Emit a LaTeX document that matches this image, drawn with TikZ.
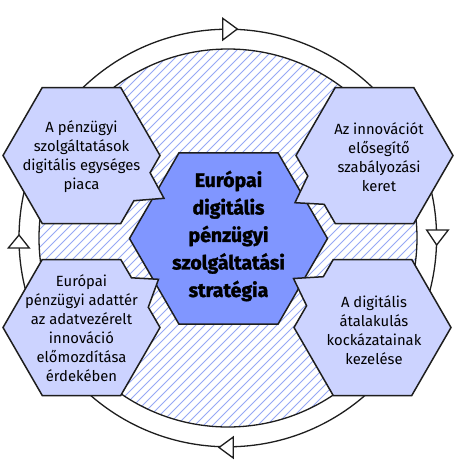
\documentclass[tikz,border=0pt]{standalone}
\usepackage{fontspec}
\setmainfont{Fira Sans}
\newfontfamily\heavyfont[BoldFeatures={FakeBold=1.6}]{Fira Sans}
\definecolor{hexmid}{RGB}{128,150,255}
\definecolor{hexlight}{RGB}{204,211,255}
\definecolor{hatchcol}{RGB}{150,168,245}
\definecolor{linecol}{RGB}{30,30,30}
\begin{document}
\begin{tikzpicture}[x=1pt,y=-1pt,
  circline/.style={draw=linecol, line width=1.3pt},
  hatchline/.style={draw=hatchcol, line width=0.8pt},
  arrowtri/.style={draw=linecol, fill=white, line width=1.3pt, line join=miter},
  hexbig/.style={draw=linecol, fill=hexmid, line width=1.5pt, line join=miter},
  hexsmall/.style={draw=linecol, fill=hexlight, line width=1.5pt, line join=miter},
  smalltext/.style={align=center, text=black, inner sep=0pt, font=\fontsize{14.8}{19}\selectfont},
  bigtext/.style={align=center, text=black, inner sep=0pt, font=\heavyfont\fontsize{19.5}{27.5}\selectfont\bfseries}]
\useasboundingbox (0,0) rectangle (458,467);
\fill[white] (0,0) rectangle (458,467);
% outer cycle
\coordinate (oc) at (227.8,238);
\draw[circline] (oc) circle[radius=208.8pt];
\draw[arrowtri] (222.7,18.3) -- (222.7,40) -- (237.3,29) -- cycle;
\draw[arrowtri] (426.7,230) -- (448.3,230) -- (436.7,245) -- cycle;
\draw[arrowtri] (233.3,437) -- (233.3,458) -- (219,447.5) -- cycle;
\draw[arrowtri] (8.3,248) -- (29.3,248) -- (19,235) -- cycle;
% hatched disc
\coordinate (ic) at (228,238);
\fill[white] (ic) circle[radius=189pt];
\begin{scope}
  \clip (ic) circle[radius=189pt];
  \foreach \k in {-50,...,50} {
    \draw[hatchline] ({\k*9}, 467) -- ({\k*9+467}, 0);
  }
\end{scope}
\draw[circline] (ic) circle[radius=189pt];
% central hexagon
\draw[hexbig] (327.5,238.5) -- (278,152.8) -- (179,152.8) -- (129.5,238.5) -- (179,324.2) -- (278,324.2) -- cycle;
% top-left
\draw[hexsmall] (160,155.5) -- (150.1,172.7) -- (164,198.3) -- (133.9,200.7) -- (120.75,223.5) -- (42.25,223.5) -- (3,155.5) -- (42.25,87.5) -- (120.75,87.5) -- cycle;
% top-right
\draw[hexsmall] (296,155.5) -- (307.8,176) -- (295,202.7) -- (324.2,204.3) -- (335.25,223.5) -- (413.75,223.5) -- (453,155.5) -- (413.75,87.5) -- (335.25,87.5) -- cycle;
% bottom-left
\draw[hexsmall] (120.75,259.5) -- (131.5,277.8) -- (158.5,279.3) -- (148.3,307.2) -- (160,327.5) -- (120.75,395.5) -- (42.25,395.5) -- (3,327.5) -- (42.25,259.5) -- cycle;
% bottom-right
\draw[hexsmall] (333.25,259.5) -- (323.3,276.7) -- (293.5,278.5) -- (306.6,305.7) -- (294,327.5) -- (333.25,395.5) -- (411.75,395.5) -- (451,327.5) -- (411.75,259.5) -- cycle;
% texts
\node[bigtext] (center) at (228.5,236) {Európai\\digitális\\pénzügyi\\szolgáltatási\\stratégia};
\node[smalltext] (tl) at (81.5,157) {A pénzügyi\\szolgáltatások\\digitális egységes\\piaca};
\node[smalltext] (tr) at (379,157) {Az innovációt\\elősegítő\\szabályozási\\keret};
\node[smalltext] (bl) at (81.5,328) {Európai\\pénzügyi adattér\\az adatvezérelt\\innováció\\előmozdítása\\érdekében};
\node[smalltext] (br) at (374,330) {A digitális\\átalakulás\\kockázatainak\\kezelése};
\end{tikzpicture}
\end{document}
